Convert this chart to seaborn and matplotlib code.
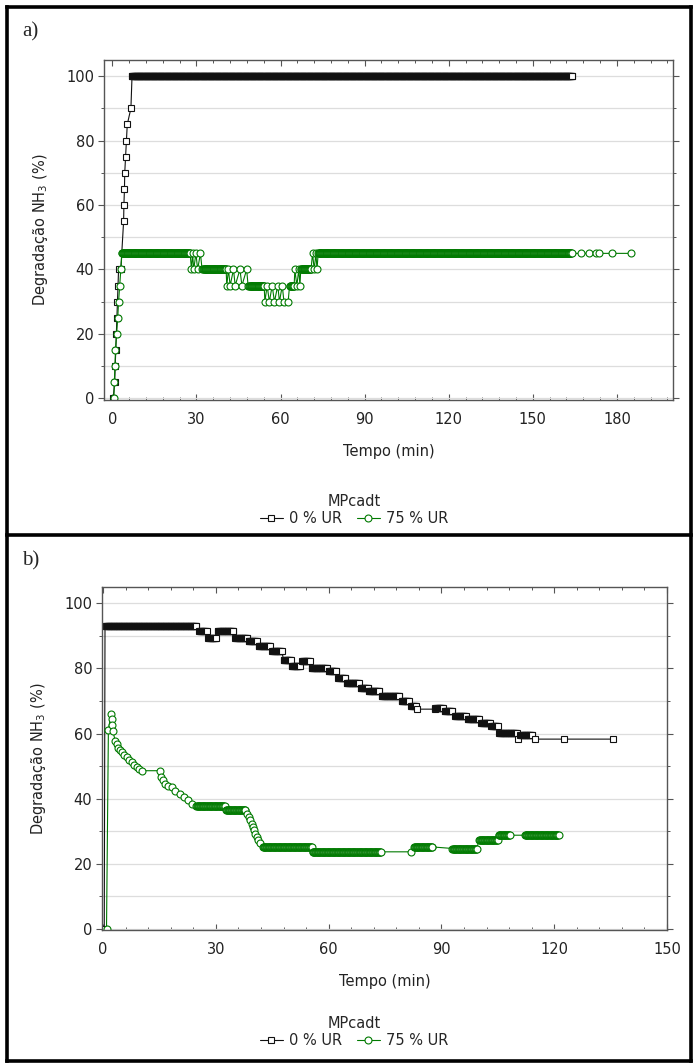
import numpy as np
import pandas as pd
import matplotlib
matplotlib.use("Agg")
import matplotlib.pyplot as plt
import seaborn as sns
from matplotlib.ticker import MultipleLocator
from matplotlib.lines import Line2D

# ---------------- data ----------------
SAMPLE_STEP = 1 / 6  # logger interval in minutes (dense constant runs)

# Panel a) 0 % UR
a0_sparse_t = [0.3, 0.8, 1.0, 1.2, 1.4, 1.6, 1.8, 2.0, 2.2, 3.0, 4.0, 4.1, 4.3, 4.4, 4.7, 5.0, 5.3, 6.6]
a0_sparse_v = [0, 5, 10, 15, 20, 25, 30, 35, 40, 40, 55, 60, 65, 70, 75, 80, 85, 90]
a0_run_start = [7.0]
a0_run_end = [164.0]
a0_run_value = [100]

# Panel a) 75 % UR
a75_sparse_t = [0.5, 0.7, 0.9, 1.1, 1.5, 1.9, 2.2, 2.6, 3.0,
                28.2, 28.6, 29.0, 29.8, 30.4, 31.4, 32.0,
                40.8, 41.4, 42.0, 43.2, 43.8, 45.5, 46.2, 47.9, 48.4,
                54.4, 55.2, 56.0, 57.0, 57.8, 59.0, 59.6, 60.6, 61.2, 62.7, 63.2,
                65.1, 65.8, 66.5, 66.9,
                71.4, 72.0, 72.6, 73.0,
                167.0, 170.0, 172.5, 173.6, 178.4, 185.0]
a75_sparse_v = [0, 5, 10, 15, 20, 25, 30, 35, 40,
                40, 45, 40, 45, 40, 45, 40,
                35, 40, 35, 40, 35, 40, 35, 40, 35,
                30, 35, 30, 35, 30, 35, 30, 35, 30, 30, 35,
                40, 35, 40, 35,
                45, 40, 45, 40,
                45, 45, 45, 45, 45, 45]
a75_run_start = [3.4, 32.4, 48.8, 63.5, 67.2, 73.4]
a75_run_end = [27.8, 40.6, 54.2, 64.9, 71.0, 164.0]
a75_run_value = [45, 40, 35, 35, 40, 45]

# Panel b) 0 % UR
b0_sparse_t = [0.3, 83.4, 88.2, 110.3, 114.8, 122.5, 135.6]
b0_sparse_v = [0, 67.5, 67.5, 58.3, 58.3, 58.3, 58.3]
b0_run_start = [0.5, 25.5, 28.0, 30.5, 35.2, 38.7, 41.4, 45.0, 48.0, 50.2, 52.9, 55.5, 60.0, 62.6,
                64.8, 68.5, 70.6, 74.1, 79.4, 82.0, 88.4, 90.9, 93.6, 97.0, 100.6, 103.3, 105.3, 111.0]
b0_run_end = [24.9, 27.5, 30.0, 34.8, 38.5, 41.0, 44.5, 47.5, 50.0, 52.5, 55.0, 59.5, 62.0, 64.5,
              68.0, 70.5, 73.5, 78.8, 81.5, 83.2, 90.5, 93.0, 96.5, 100.0, 103.0, 105.0, 110.0, 114.3]
b0_run_value = [93.0, 91.4, 89.3, 91.6, 89.3, 88.3, 86.8, 85.3, 82.7, 80.7, 82.2, 80.2, 79.2, 77.1,
                75.6, 74.1, 73.0, 71.5, 70.0, 68.5, 68.0, 66.9, 65.4, 64.4, 63.4, 62.3, 60.2, 59.7]

# Panel b) 75 % UR
b75_sparse_t = [0.9, 1.4, 2.1, 2.3, 2.4, 2.6, 3.2, 3.6, 4.0, 4.5, 5.0, 5.6, 6.3, 6.9, 7.6, 8.3, 9.0, 9.6, 10.3,
                15.1, 15.5, 15.9, 16.4, 17.2, 18.2, 19.2, 20.4, 21.5, 22.6, 23.7,
                38.4, 38.9, 39.2, 39.5, 39.8, 40.2, 40.5, 40.8, 41.2, 41.8,
                81.8, 87.6]
b75_sparse_v = [0, 61.0, 66.1, 64.5, 62.5, 60.8, 57.8, 56.7, 55.7, 55.0, 54.2, 53.5, 52.7, 52.0, 51.2, 50.4, 49.6, 49.2, 48.6,
                48.6, 46.6, 45.6, 44.6, 44.0, 43.5, 42.5, 41.5, 40.5, 39.5, 38.5,
                35.4, 34.4, 33.4, 32.3, 31.3, 30.3, 29.3, 28.3, 27.3, 26.4,
                23.7, 25.2]
b75_run_start = [24.8, 32.7, 42.5, 55.7, 82.7, 92.9, 100.0, 105.2, 112.2]
b75_run_end = [32.3, 38.0, 55.5, 73.9, 87.4, 99.5, 105.0, 108.3, 121.2]
b75_run_value = [37.9, 36.4, 25.2, 23.7, 25.2, 24.7, 27.3, 28.8, 28.8]

series_labels = ["0 % UR", "75 % UR"]
legend_title = "MPcadt"
x_label = "Tempo (min)"
y_label = "Degradação NH$_3$ (%)"
panel_tags = ["a)", "b)"]


def build(sparse_t, sparse_v, run_start, run_end, run_value):
    t = list(sparse_t)
    v = list(sparse_v)
    for s, e, val in zip(run_start, run_end, run_value):
        ts = np.arange(s, e + 1e-9, SAMPLE_STEP)
        t += list(ts)
        v += [val] * len(ts)
    df = pd.DataFrame({"t": t, "v": v}).sort_values("t", kind="stable").reset_index(drop=True)
    return df


panels = [
    (build(a0_sparse_t, a0_sparse_v, a0_run_start, a0_run_end, a0_run_value),
     build(a75_sparse_t, a75_sparse_v, a75_run_start, a75_run_end, a75_run_value)),
    (build(b0_sparse_t, b0_sparse_v, b0_run_start, b0_run_end, b0_run_value),
     build(b75_sparse_t, b75_sparse_v, b75_run_start, b75_run_end, b75_run_value)),
]

# ---------------- style ----------------
sns.set_style("white")
plt.rcParams["font.family"] = ["DejaVu Sans"]
plt.rcParams["mathtext.default"] = "regular"

W, H = 695, 1064
fig = plt.figure(figsize=(W / 100, H / 100), dpi=100)

axes_px = [(104, 60, 673, 400), (102, 587, 667, 930)]
xlims = [(-3, 200), (-0.3, 150)]
ylims = [(-0.5, 105), (-0.3, 105)]
legend_y = [510, 1032]
tag_y = [36, 565]

BLACK = "#111111"
GREEN = "#007a00"
colors = [BLACK, GREEN]
markers = ["s", "o"]
FS = 10.5
MS = 5.0

for i, (l, t, r, b) in enumerate(axes_px):
    ax = fig.add_axes([l / W, 1 - b / H, (r - l) / W, (b - t) / H])
    for j, df in enumerate(panels[i]):
        sns.lineplot(data=df, x="t", y="v", ax=ax, estimator=None, sort=False,
                     color=colors[j], lw=0.8, marker=markers[j], ms=MS,
                     mfc="white", mec=colors[j], mew=0.8, label=series_labels[j],
                     legend=False)
    ax.set_xlim(*xlims[i])
    ax.set_ylim(*ylims[i])
    ax.xaxis.set_major_locator(MultipleLocator(30))
    ax.xaxis.set_minor_locator(MultipleLocator(6))
    ax.yaxis.set_major_locator(MultipleLocator(20))
    ax.yaxis.set_minor_locator(MultipleLocator(10))
    ax.grid(True, which="both", axis="y", color="#dddddd", lw=0.9)
    ax.grid(False, axis="x", which="both")
    ax.set_axisbelow(True)
    ax.tick_params(axis="x", which="both", direction="in", top=True, bottom=True,
                   colors="#555555", labelcolor="#222222", labelsize=FS, pad=9)
    ax.tick_params(axis="y", which="both", direction="out", left=True, right=True,
                   colors="#555555", labelcolor="#222222", labelsize=FS, pad=3)
    ax.tick_params(which="major", length=4, width=0.8)
    ax.tick_params(which="minor", length=2.5, width=0.7)
    for sp in ax.spines.values():
        sp.set_color("#555555")
        sp.set_linewidth(1.0)
    ax.set_xlabel(x_label, fontsize=FS, color="#222222", labelpad=12)
    ax.set_ylabel(y_label, fontsize=FS, color="#222222", labelpad=12)

    handles = [Line2D([], [], color=colors[k], lw=0.8, marker=markers[k], ms=MS,
                      mfc="white", mec=colors[k], mew=0.8) for k in range(2)]
    leg = fig.legend(handles, series_labels, title=legend_title, ncol=2,
                     loc="center", bbox_to_anchor=(354 / W, 1 - legend_y[i] / H),
                     frameon=False, fontsize=FS, title_fontsize=FS,
                     handlelength=1.6, handletextpad=0.4, columnspacing=1.0,
                     borderpad=0.1, labelspacing=0.1)
    fig.text(22 / W, 1 - tag_y[i] / H, panel_tags[i], family="Liberation Serif",
             fontsize=15, va="baseline", ha="left")

# table-style frame around the two panels
frame_kw = dict(color="black", lw=2.6, transform=fig.transFigure, solid_capstyle="projecting")
x0, x1 = 7 / W, 691 / W
y0, y1 = 1 - 7 / H, 1 - 1061 / H
ym = 1 - 535 / H
for xs, ys in [((x0, x1), (y0, y0)), ((x0, x1), (y1, y1)), ((x0, x1), (ym, ym)),
               ((x0, x0), (y0, y1)), ((x1, x1), (y0, y1))]:
    fig.add_artist(Line2D(xs, ys, **frame_kw))

fig.savefig("out.png", dpi=100)
